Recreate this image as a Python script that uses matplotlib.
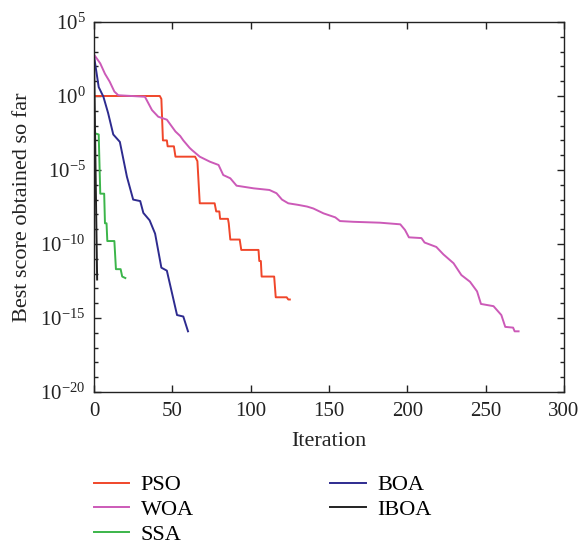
import numpy as np
import matplotlib
matplotlib.use("Agg")
import matplotlib.pyplot as plt
from matplotlib.ticker import FixedLocator, FuncFormatter

plt.rcParams['font.family'] = ['Liberation Serif', 'DejaVu Serif']
plt.rcParams['mathtext.fontset'] = 'custom'
plt.rcParams['mathtext.rm'] = 'Liberation Serif'
plt.rcParams['mathtext.it'] = 'Liberation Serif:italic'

# --- convergence curves (iteration, log10 of best score) ---
pso_it = [0, 42, 43, 44, 46.5, 47, 51, 52, 64.5, 66, 67.5, 77, 78, 80, 80.5, 85.5,
          86, 87, 93, 94, 105, 105.5, 106.5, 107, 115, 116, 123, 124, 125]
pso_lg = [0, 0, -0.2, -3.0, -3.0, -3.4, -3.4, -4.1, -4.1, -4.4, -7.25, -7.25, -7.8, -7.8,
          -8.3, -8.3, -8.6, -9.7, -9.7, -10.4, -10.4, -11.15, -11.15, -12.2, -12.2,
          -13.6, -13.6, -13.75, -13.75]

woa_it = [0, 4, 7, 10, 13, 15.5, 32.5, 37, 41, 46.5, 52, 55, 57, 61, 62.5, 67.5, 74, 79.5,
          82.5, 87, 91, 102, 112, 116.5, 120, 124, 130.5, 136, 140, 146.5, 154, 157,
          165.5, 182.5, 195.5, 198.5, 201, 209, 211, 218.5, 223, 229.5, 234.5, 240,
          244.5, 247, 255, 260, 262.5, 267.5, 268.5, 271]
woa_lg = [2.8, 2.2, 1.5, 0.97, 0.3, 0.05, -0.05, -0.95, -1.4, -1.6, -2.4, -2.7, -3.0,
          -3.5, -3.65, -4.1, -4.44, -4.66, -5.34, -5.56, -6.06, -6.24, -6.35, -6.57,
          -7.0, -7.25, -7.36, -7.47, -7.6, -7.93, -8.2, -8.45, -8.5, -8.56, -8.67,
          -9.05, -9.55, -9.6, -9.9, -10.2, -10.7, -11.3, -12.1, -12.55, -13.2, -14.05,
          -14.2, -14.8, -15.6, -15.65, -15.9, -15.9]

ssa_it = [0, 3, 4, 6.5, 7, 8, 8.5, 13, 14, 17, 18, 20]
ssa_lg = [-2.5, -2.6, -6.6, -6.6, -8.6, -8.6, -9.8, -9.8, -11.7, -11.7, -12.2, -12.3]

boa_it = [0, 3, 6, 9, 12.3, 16.5, 21, 25, 29.5, 31.5, 35.5, 39, 43, 46.5, 53, 57, 60]
boa_lg = [2.7, 0.6, -0.05, -1.15, -2.6, -3.1, -5.45, -7.0, -7.1, -7.9, -8.4, -9.3,
          -11.6, -11.8, -14.8, -14.9, -15.9]

iboa_it = [0, 1, 2]
iboa_lg = [2.9, -5.0, -12.4]

names = ['PSO', 'WOA', 'SSA', 'BOA', 'IBOA']
colors = ['#f0462a', '#cc5ab8', '#3bb54a', '#2e2b8f', '#222222']
curves = [(pso_it, pso_lg), (woa_it, woa_lg), (ssa_it, ssa_lg),
          (boa_it, boa_lg), (iboa_it, iboa_lg)]

fig = plt.figure(figsize=(5.85, 5.46), dpi=100)
ax = fig.add_axes([94/585, 1-392/546, 470/585, 370/546])

for name, c, (it, lg) in zip(names, colors, curves):
    ax.semilogy(it, 10.0 ** np.array(lg), color=c, lw=1.4, label=name)

ax.set_xlim(0, 300)
ax.set_ylim(1e-20, 1e5)
ax.set_xticks([0, 50, 100, 150, 200, 250, 300])
ax.yaxis.set_major_locator(FixedLocator([10.0**e for e in range(-20, 6, 5)]))
ax.yaxis.set_minor_locator(FixedLocator([10.0**e for e in range(-20, 6)]))
ax.yaxis.set_minor_formatter(FuncFormatter(lambda v, p: ''))

def fmt(v, p):
    e = int(round(np.log10(v)))
    if e < 0:
        return r'$10^{\mathrm{-}%d}$' % (-e)
    return r'$10^{%d}$' % e

ax.yaxis.set_major_formatter(FuncFormatter(fmt))
ax.tick_params(which='both', direction='in', top=True, right=True, labelsize=15,
               width=1.0, color='#222222', labelcolor='#222222')
ax.tick_params(axis='x', which='major', pad=7)
ax.tick_params(axis='y', which='major', pad=6)
ax.tick_params(which='major', length=5)
ax.tick_params(which='minor', length=3)
for s in ax.spines.values():
    s.set_linewidth(1.0)
    s.set_color('#222222')

ax.set_xlabel('Iteration', fontsize=16, labelpad=8, color='#222222')
ax.set_ylabel('Best score obtained so far', fontsize=16, labelpad=6, color='#222222')

fig.legend(loc='upper left', bbox_to_anchor=(85/585, 1-466/546), ncol=2,
           frameon=False, fontsize=16, handlelength=1.6, handletextpad=0.5,
           columnspacing=6.15, labelspacing=0.18, borderaxespad=0)

fig.savefig('out.png', dpi=100)
